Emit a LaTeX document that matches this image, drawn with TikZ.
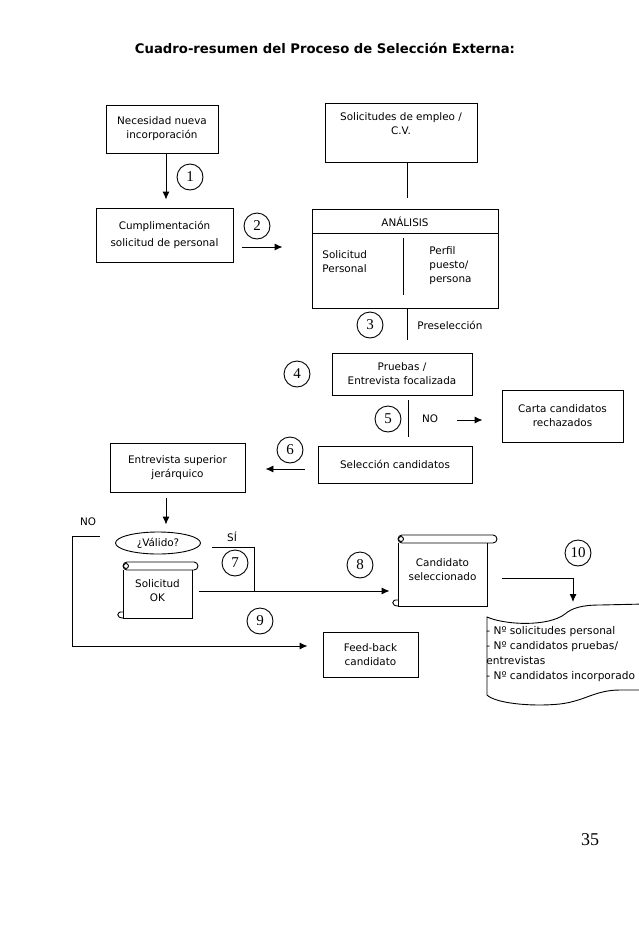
\documentclass[tikz,border=0pt]{standalone}
\usepackage{fontspec}
\setmainfont{DejaVu Sans}
\newfontfamily\numfont{Liberation Serif}
\usetikzlibrary{arrows.meta,shapes.geometric,calc}

\newcommand{\txtsize}{\fontsize{10.4}{14}\selectfont}
\tikzset{
  box/.style={draw, align=center, inner sep=1pt, font=\txtsize},
  num/.style={draw, circle, minimum size=26pt, inner sep=0pt, font=\numfont\fontsize{15}{15}\selectfont},
  lbl/.style={font=\txtsize, inner sep=1pt},
  flow/.style={-{Latex[length=8pt,width=7pt]}}
}

\begin{document}
\begin{tikzpicture}[x=1pt, y=-1pt, line width=0.9pt]
    \useasboundingbox (0,0) rectangle (638,929);
    \fill[white] (0,0) rectangle (638,929);
    \node[font=\bfseries\fontsize{13.2}{15}\selectfont] (titulo) at (325,48) {Cuadro-resumen del Proceso de Selección Externa:};
    % cajas
    \node[box, minimum width=112pt, minimum height=48pt] (necesidad) at (162,129) {Necesidad nueva\\incorporación};
    \node[box, minimum width=152pt, minimum height=59pt] (solicitudes) at (401,132.5) {Solicitudes de empleo /\\C.V.\\[4pt]};
    \node[box, minimum width=137pt, minimum height=54pt] (cumpl) at (164.5,235) {Cumplimentación\\[3pt]solicitud de personal};
    \node[box, minimum width=186pt, minimum height=99pt] (analisis) at (405,258.5) {};
    \node[lbl] (anatit) at (405,222) {ANÁLISIS};
    \node[lbl, align=left, anchor=west] (solpers) at (321,262) {Solicitud\\Personal};
    \node[lbl, align=left, anchor=west] (perfil) at (428,266) {Perfil\\puesto/\\persona};
    \draw (analisis.west |- 0,233) -- (analisis.east |- 0,233);
    \draw (403,238) -- (403,295);
    \node[box, minimum width=140pt, minimum height=42pt] (pruebas) at (402,374) {Pruebas /\\Entrevista focalizada};
    \node[box, minimum width=121pt, minimum height=52pt] (carta) at (562.5,416) {Carta candidatos\\rechazados};
    \node[box, minimum width=154pt, minimum height=37pt] (selec) at (395,464.5) {Selección candidatos};
    \node[box, minimum width=135pt, minimum height=49pt] (entrev) at (177.5,467.5) {Entrevista superior\\jerárquico};
    \node[box, ellipse, minimum width=85pt, minimum height=22pt, inner sep=0pt] (valido) at (158,543) {¿Válido?};
    \node[box, minimum width=95pt, minimum height=45pt] (feed) at (370.5,654.5) {Feed-back\\candidato};
    \node[lbl, align=center, minimum width=69pt, inner sep=0pt] (solok) at (157.5,591) {Solicitud\\OK};
    \node[lbl, align=center, minimum width=89pt, inner sep=0pt] (cand) at (442.5,570) {Candidato\\seleccionado};
    \node[lbl, align=left, anchor=north west, inner sep=0pt, font=\fontsize{10.6}{15}\selectfont] (recuento) at (486,626) {- Nº solicitudes personal\\- Nº candidatos pruebas/\\entrevistas\\- Nº candidatos incorporado};
    % numeros
    \node[num] (n1) at (190,177) {1};
    \node[num] (n2) at (257,226) {2};
    \node[num] (n3) at (370,325) {3};
    \node[num] (n4) at (297,374) {4};
    \node[num] (n5) at (388,419) {5};
    \node[num] (n6) at (290,450) {6};
    \node[num] (n7) at (235,563) {7};
    \node[num] (n8) at (360,565) {8};
    \node[num] (n9) at (260,621) {9};
    \node[num] (n10) at (578,553) {10};
    % etiquetas
    \node[lbl, anchor=west] (lblpre) at (416,325) {Preselección};
    \node[lbl] (lblno5) at (430,419) {NO};
    \node[lbl] (lblno) at (88,522) {NO};
    \node[lbl] (lblsi) at (232,537) {SÍ};
    \node[font=\numfont\fontsize{18}{18}\selectfont] (pagina) at (590,840) {35};
    % conexiones
    \coordinate (a1) at ([xshift=4pt]necesidad.south);
    \draw[flow, shorten >=8pt] (a1) -- (a1 |- cumpl.north);
    \draw[shorten >=11pt] (solicitudes.south -| 407,0) -- (analisis.north -| 407,0);
    \draw[flow, shorten <=9pt, shorten >=29pt] (cumpl.east |- 0,247) -- (analisis.west |- 0,247);
    \draw (analisis.south -| 407,0) -- (407,340);
    \draw[shorten <=5pt] (pruebas.south -| 408,0) -- (408,437);
    \draw[flow, shorten <=18pt, shorten >=19pt] (lblno5.east |- 0,420) -- (carta.west |- 0,420);
    \draw[flow, shorten <=13pt, shorten >=20pt] (selec.west |- 0,469) -- (entrev.east |- 0,469);
    \draw[flow, shorten <=6pt, shorten >=7pt] (entrev.south -| 166,0) -- (valido.north -| 166,0);
    \coordinate (nostart) at (100,536);
    \draw[flow, shorten >=15pt] (nostart) -| (72,646) -- (feed.west |- 0,646);
    \coordinate (sistart) at (212,547);
    \draw (sistart) -| (solok.east -| 254,0);
    \draw[flow, shorten <=7pt, shorten >=8pt] (solok.east) -- (solok.east -| cand.west);
    \coordinate (doctop) at (573,602);
    \draw[flow, shorten <=15pt] (cand.east |- 0,578) -| (doctop);
    % pergaminos
    \draw[rounded corners=4pt] (123,562) rectangle (198,570);
    \draw (123,570) -- (123,618) -- (192,618) -- (192,570);
    \draw (126,566) circle[radius=2.5pt];
    \draw (123,612) .. controls (116,611) and (116,618) .. (123,618);
    \draw[rounded corners=4pt] (398,535) rectangle (497,543);
    \draw (398,543) -- (398,606) -- (487,606) -- (487,543);
    \draw (401,539) circle[radius=2.5pt];
    \draw (398,600) .. controls (391,599) and (391,606) .. (398,606);
    % documento
    \draw (487,617) .. controls (505,625) and (548,627) .. (565,614) .. controls (572,608) and (582,605) .. (600,605) -- (645,604) -- (645,690) -- (620,690) .. controls (595,690) and (585,701) .. (560,704) .. controls (530,707) and (495,703) .. (487,695) -- cycle;
\end{tikzpicture}
\end{document}
